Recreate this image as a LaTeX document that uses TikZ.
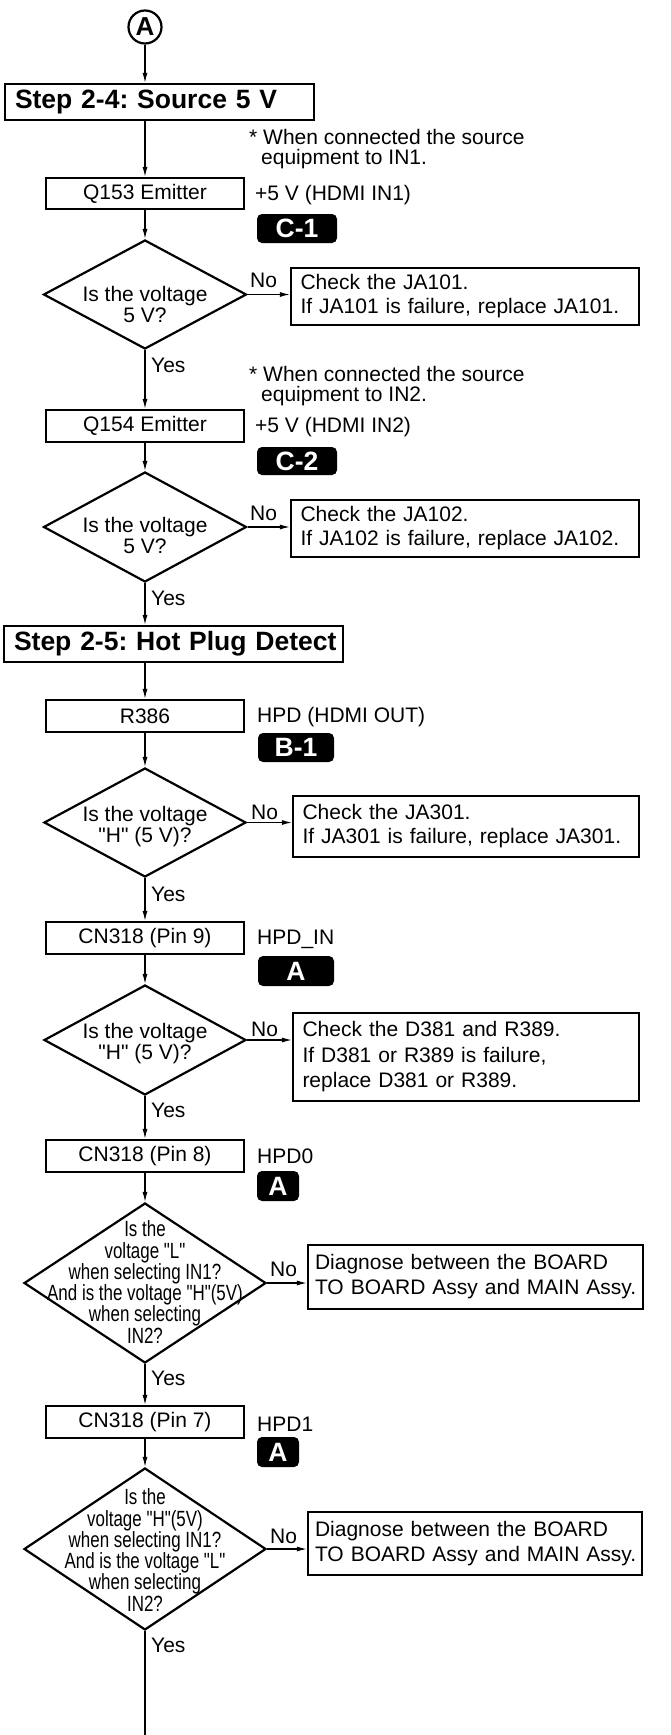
\documentclass[tikz,border=0pt]{standalone}
\usepackage{fontspec}
\newfontfamily\lsans{Liberation Sans}
\newfontfamily\narrowfam[FakeStretch=0.77]{Liberation Sans}
\usetikzlibrary{shapes.geometric,arrows.meta}
\newcommand{\fnorm}{\lsans\fontsize{21}{24}\selectfont}
\newcommand{\fbig}{\lsans\fontsize{26.5}{30}\selectfont\bfseries}
\newcommand{\fnar}{\narrowfam\fontsize{22}{21.3}\selectfont}
\frenchspacing
\begin{document}
\begin{tikzpicture}[x=1pt,y=-1pt,line join=miter,
  box/.style={draw,line width=2.2pt,inner sep=0pt,minimum width=198pt,minimum height=32pt,font=\fnorm},
  stepbox/.style={draw,line width=2.2pt,inner xsep=10pt,inner ysep=0pt,minimum height=36pt,align=left,font=\fbig},
  msgbox/.style={draw,line width=2.2pt,inner xsep=9.5pt,inner ysep=0pt,align=left,font=\fnorm},
  dia/.style={diamond,draw,line width=2.2pt,inner sep=0pt},
  dtext/.style={align=center,inner sep=0pt,font=\lsans\fontsize{21}{21}\selectfont},
  ntext/.style={align=center,inner sep=0pt,font=\fnar},
  lbl/.style={anchor=west,inner sep=0pt,font=\fnorm},
  tag/.style={fill=black,rounded corners=5pt,text=white,inner sep=0pt,font=\fbig,minimum height=29pt},
  arr/.style={line width=1.2pt,-{Latex[length=10pt,width=5pt]}},
  conn/.style={line width=1.2pt}
]
\useasboundingbox (0,0) rectangle (670,1735);

\node[circle,draw,line width=2.2pt,minimum size=33pt,inner sep=0pt,font=\lsans\fontsize{26}{26}\selectfont\bfseries] (cA) at (145,27) {A};

\node[stepbox,text width=289pt] (s24) at (159.5,102) {\mbox{Step 2-4: Source 5 V}};
\node[lbl,align=left,font=\lsans\fontsize{21}{20}\selectfont] (n1) at (249,149) {* When connected the source\\\hspace*{12pt}equipment to IN1.};
\node[box,minimum height=31pt] (q153) at (145,193.5) {Q153 Emitter};
\node[lbl] (v1) at (255,195) {+5 V (HDMI IN1)};
\node[tag,minimum width=80pt] (c1) at (297,228.5) {C-1};
\node[dia,minimum width=203pt,minimum height=109pt] (d1) at (145,294.5) {};
\node[dtext] (d1t) at (145,304) {Is the voltage\\5 V?};
\node[msgbox,text width=329pt,minimum height=57pt] (m1) at (465,296.5) {\mbox{Check the JA101.}\\\mbox{If JA101 is failure, replace JA101.}};
\node[lbl] (no1) at (250,280) {No};
\node[lbl] (y1) at (151,365) {Yes};

\node[lbl,align=left,font=\lsans\fontsize{21}{20}\selectfont] (n2) at (249,386) {* When connected the source\\\hspace*{12pt}equipment to IN2.};
\node[box] (q154) at (145,426) {Q154 Emitter};
\node[lbl] (v2) at (255,427) {+5 V (HDMI IN2)};
\node[tag,minimum width=80pt,minimum height=28pt] (c2) at (297,461) {C-2};
\node[dia,minimum width=203pt,minimum height=110pt] (d2) at (145,527) {};
\node[dtext] (d2t) at (145,535) {Is the voltage\\5 V?};
\node[msgbox,text width=329pt,minimum height=57pt] (m2) at (465,528.5) {\mbox{Check the JA102.}\\\mbox{If JA102 is failure, replace JA102.}};
\node[lbl] (no2) at (250,513) {No};
\node[lbl] (y2) at (151,598) {Yes};

\node[stepbox,text width=319pt] (s25) at (173.5,644) {\mbox{Step 2-5: Hot Plug Detect}};
\node[box] (r386) at (145,716) {R386};
\node[lbl] (v3) at (257,717) {HPD (HDMI OUT)};
\node[tag,minimum width=76pt] (b1) at (296,747.5) {B-1};
\node[dia,minimum width=202pt,minimum height=109pt] (d3) at (145,822.5) {};
\node[dtext] (d3t) at (145,827) {Is the voltage\\"H" (5 V)?};
\node[msgbox,text width=327pt,minimum height=61pt] (m3) at (466,826.5) {\mbox{Check the JA301.}\\\mbox{If JA301 is failure, replace JA301.}};
\node[lbl] (no3) at (251,812) {No};
\node[lbl] (y3) at (151,894) {Yes};

\node[box] (cn9) at (145,938) {CN318 (Pin 9)};
\node[lbl] (v4) at (257,939) {HPD\_IN};
\node[tag,minimum width=76pt,minimum height=30pt] (a1) at (296,971) {A};
\node[dia,minimum width=202pt,minimum height=110pt] (d4) at (145,1040) {};
\node[dtext] (d4t) at (145,1044) {Is the voltage\\"H" (5 V)?};
\node[msgbox,text width=327pt,minimum height=88pt,font=\lsans\fontsize{21}{25.5}\selectfont] (m4) at (466,1057) {\mbox{Check the D381 and R389.}\\\mbox{If D381 or R389 is failure,}\\\mbox{replace D381 or R389.}};
\node[lbl] (no4) at (251,1029) {No};
\node[lbl] (y4) at (151,1110) {Yes};

\node[box] (cn8) at (145,1156) {CN318 (Pin 8)};
\node[lbl] (v5) at (257,1156) {HPD0};
\node[tag,minimum width=42pt,minimum height=30pt] (a2) at (278,1186) {A};
\node[dia,minimum width=242pt,minimum height=160pt] (d5) at (145,1283) {};
\node[ntext] (d5t) at (145,1282) {Is the\\voltage "L"\\when selecting IN1?\\And is the voltage "H"(5V)\\when selecting\\IN2?};
\node[msgbox,text width=321pt,inner xsep=7pt,minimum height=64pt,font=\lsans\fontsize{21}{25}\selectfont] (m5) at (475.5,1277) {\mbox{Diagnose between the BOARD}\\\mbox{TO BOARD Assy and MAIN Assy.}};
\node[lbl] (no5) at (270,1269) {No};
\node[lbl] (y5) at (151,1378) {Yes};

\node[box] (cn7) at (145,1422) {CN318 (Pin 7)};
\node[lbl] (v6) at (257,1424) {HPD1};
\node[tag,minimum width=42pt,minimum height=30pt] (a3) at (278,1452) {A};
\node[dia,minimum width=242pt,minimum height=162pt] (d6) at (145,1549) {};
\node[ntext] (d6t) at (145,1550) {Is the\\voltage "H"(5V)\\when selecting IN1?\\And is the voltage "L"\\when selecting\\IN2?};
\node[msgbox,text width=320pt,inner xsep=7pt,minimum height=63pt,font=\lsans\fontsize{21}{25}\selectfont] (m6) at (475,1543.5) {\mbox{Diagnose between the BOARD}\\\mbox{TO BOARD Assy and MAIN Assy.}};
\node[lbl] (no6) at (270,1536) {No};
\node[lbl] (y6) at (151,1645) {Yes};
\coordinate (bend) at (145,1735);

% main flow
\draw[arr] (cA.south) -- (cA.south |- s24.north);
\draw[arr] (q153.north |- s24.south) -- (q153.north);
\draw[arr] (q153.south) -- (d1.north);
\draw[arr] (d1.south) -- (q154.north);
\draw[arr] (q154.south) -- (d2.north);
\draw[arr] (d2.south) -- (d2.south |- s25.north);
\draw[arr] (r386.north |- s25.south) -- (r386.north);
\draw[arr] (r386.south) -- (d3.north);
\draw[arr] (d3.south) -- (cn9.north);
\draw[arr] (cn9.south) -- (d4.north);
\draw[arr] (d4.south) -- (cn8.north);
\draw[arr] (cn8.south) -- (d5.north);
\draw[arr] (d5.south) -- (cn7.north);
\draw[arr] (cn7.south) -- (d6.north);
\draw[conn] (d6.south) -- (bend);
% No branches
\draw[arr] (d1.east) -- (d1.east -| m1.west);
\draw[arr] (d2.east) -- (d2.east -| m2.west);
\draw[arr] (d3.east) -- (d3.east -| m3.west);
\draw[arr] (d4.east) -- (d4.east -| m4.west);
\draw[arr] (d5.east) -- (d5.east -| m5.west);
\draw[arr] (d6.east) -- (d6.east -| m6.west);
\end{tikzpicture}
\end{document}
